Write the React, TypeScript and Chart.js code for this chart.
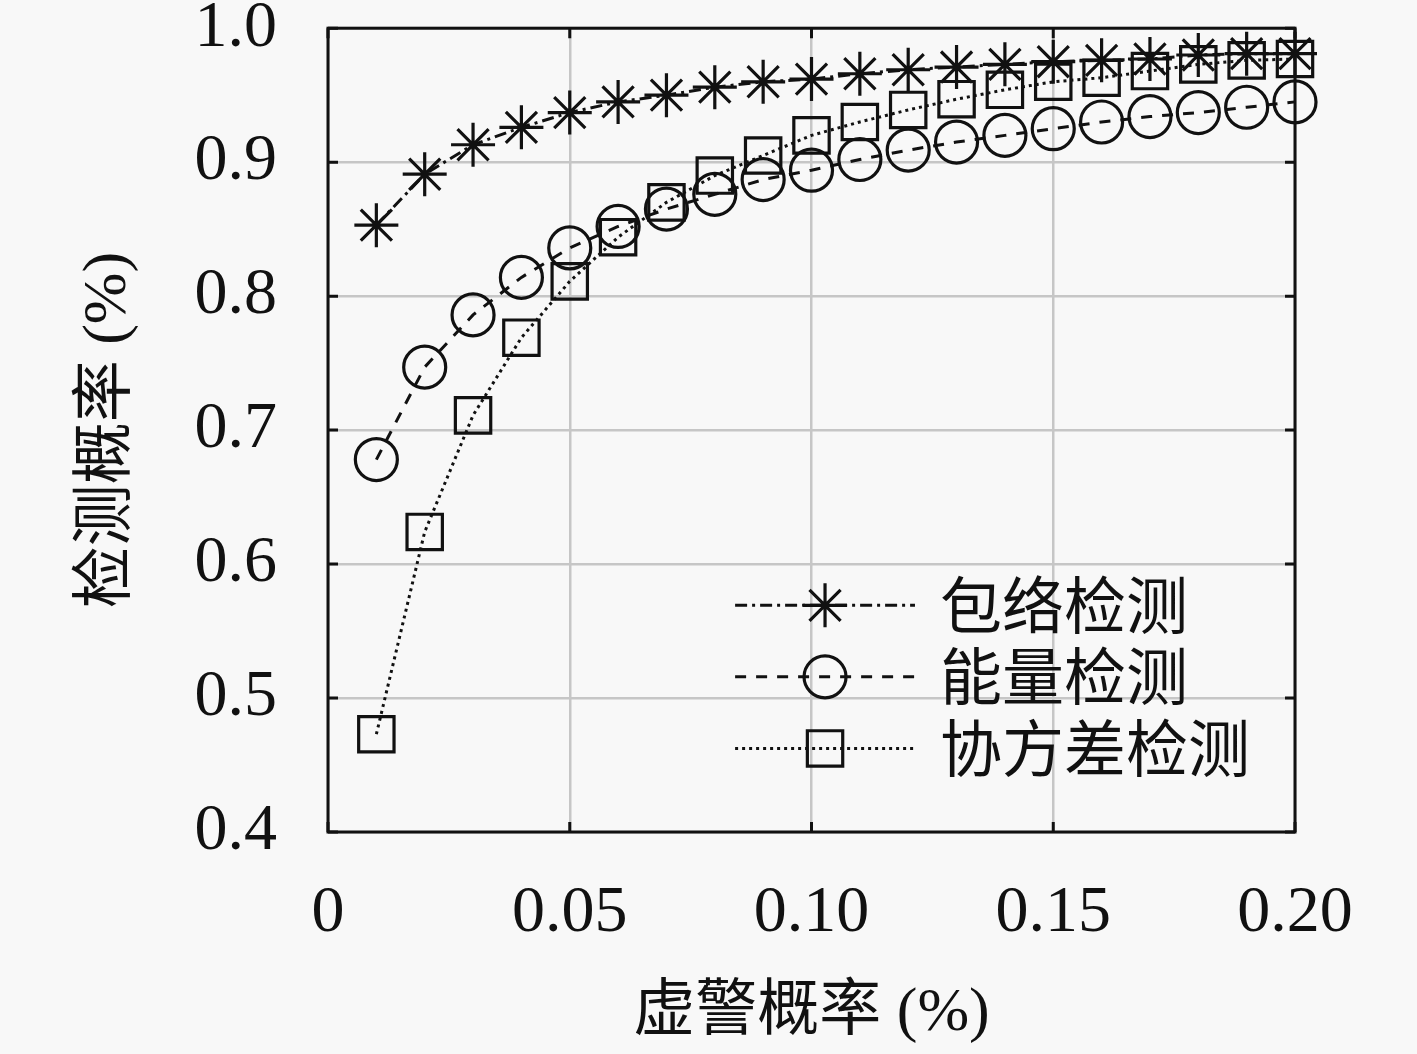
import { useEffect, useRef } from "react";
import { Chart, registerables } from "chart.js";

Chart.register(...registerables);

// false alarm probability (x), one point per 0.01
const falseAlarm = [
  0.01, 0.02, 0.03, 0.04, 0.05, 0.06, 0.07, 0.08, 0.09, 0.1,
  0.11, 0.12, 0.13, 0.14, 0.15, 0.16, 0.17, 0.18, 0.19, 0.2,
];

// detection probability per method
const envelope = [
  0.853, 0.891, 0.913, 0.926, 0.937, 0.945, 0.95, 0.956, 0.96, 0.962,
  0.966, 0.969, 0.971, 0.973, 0.975, 0.976, 0.977, 0.98, 0.981, 0.981,
];
const energy = [
  0.678, 0.747, 0.786, 0.814, 0.836, 0.852, 0.865, 0.876, 0.887, 0.894,
  0.902, 0.909, 0.915, 0.92, 0.925, 0.93, 0.934, 0.937, 0.941, 0.945,
];
const covariance = [
  0.473, 0.624, 0.711, 0.769, 0.811, 0.844, 0.87, 0.89, 0.905, 0.92,
  0.93, 0.939, 0.947, 0.954, 0.96, 0.963, 0.968, 0.973, 0.976, 0.977,
];

const seriesNames = ["包络检测", "能量检测", "协方差检测"];
const xTickLabels = ["0", "0.05", "0.10", "0.15", "0.20"];
const yTickLabels = ["0.4", "0.5", "0.6", "0.7", "0.8", "0.9", "1.0"];

const SERIF = "'Liberation Serif', 'Noto Sans CJK SC', serif";
const CJK = "'Noto Sans CJK SC', sans-serif";

// draw a marker by hand for the legend
function drawMarker(ctx: CanvasRenderingContext2D, style: string, x: number, y: number, r: number) {
  ctx.beginPath();
  if (style === "circle") {
    ctx.arc(x, y, r, 0, Math.PI * 2);
  } else if (style === "rect") {
    const s = Math.SQRT1_2 * r;
    ctx.rect(x - s, y - s, 2 * s, 2 * s);
  } else {
    for (let i = 0; i < 4; i++) {
      const a = (i * Math.PI) / 4;
      ctx.moveTo(x - Math.cos(a) * r, y - Math.sin(a) * r);
      ctx.lineTo(x + Math.cos(a) * r, y + Math.sin(a) * r);
    }
  }
  ctx.stroke();
}

const framePlugin = {
  id: "frame",
  beforeDraw(chart: any) {
    const { ctx, width, height } = chart;
    ctx.save();
    ctx.fillStyle = "#f8f8f8";
    ctx.fillRect(0, 0, width, height);
    ctx.restore();
  },
  beforeDatasetsDraw(chart: any) {
    const { ctx, chartArea: a, scales } = chart;
    ctx.save();
    ctx.strokeStyle = "#111";
    ctx.lineWidth = 3;
    // inner tick marks
    const len = 10;
    ctx.beginPath();
    scales.x.ticks.forEach((t: any) => {
      const px = scales.x.getPixelForValue(t.value);
      ctx.moveTo(px, a.bottom);
      ctx.lineTo(px, a.bottom - len);
      ctx.moveTo(px, a.top);
      ctx.lineTo(px, a.top + len);
    });
    scales.y.ticks.forEach((t: any) => {
      const py = scales.y.getPixelForValue(t.value);
      ctx.moveTo(a.left, py);
      ctx.lineTo(a.left + len, py);
      ctx.moveTo(a.right, py);
      ctx.lineTo(a.right - len, py);
    });
    ctx.stroke();
    ctx.strokeRect(a.left, a.top, a.right - a.left, a.bottom - a.top);
    ctx.restore();
  },
  afterDatasetsDraw(chart: any) {
    const { ctx, chartArea: a } = chart;
    ctx.save();
    // legend inside the plot, lower right
    const w = a.right - a.left;
    const h = a.bottom - a.top;
    const x1 = a.left + 0.421 * w;
    const x2 = a.left + 0.607 * w;
    const xm = (x1 + x2) / 2;
    const rows = [0.718, 0.807, 0.896];
    chart.data.datasets.forEach((ds: any, i: number) => {
      const y = a.top + rows[i] * h;
      ctx.strokeStyle = "#111";
      ctx.lineWidth = 3;
      ctx.setLineDash(ds.borderDash || []);
      ctx.beginPath();
      ctx.moveTo(x1, y);
      ctx.lineTo(x2, y);
      ctx.stroke();
      ctx.setLineDash([]);
      ctx.lineWidth = ds.pointBorderWidth;
      drawMarker(ctx, ds.pointStyle, xm, y, ds.pointRadius);
      ctx.fillStyle = "#111";
      ctx.font = `62px ${CJK}`;
      ctx.textAlign = "left";
      ctx.textBaseline = "middle";
      ctx.fillText(ds.label, a.left + 0.633 * w, y);
    });
    ctx.restore();
  },
};

export default function App() {
  const chartRef = useRef<HTMLCanvasElement | null>(null);
  const chartInstance = useRef<Chart | null>(null);

  useEffect(() => {
    document.body.style.margin = "0";
    if (!chartRef.current) return;
    if (chartInstance.current) chartInstance.current.destroy();

    const toPoints = (vals: number[]) => falseAlarm.map((x, i) => ({ x, y: vals[i] }));

    const common = {
      borderColor: "#111",
      borderWidth: 3,
      pointBorderWidth: 3.2,
      pointBorderColor: "#111",
      pointBackgroundColor: "transparent",
      tension: 0,
      clip: false as const,
    };

    chartInstance.current = new Chart(chartRef.current, {
      type: "line",
      data: {
        datasets: [
          {
            ...common,
            label: seriesNames[0],
            data: toPoints(envelope),
            borderDash: [12, 5, 3, 5],
            pointStyle: "star",
            pointRadius: 22,
          },
          {
            ...common,
            label: seriesNames[1],
            data: toPoints(energy),
            borderDash: [11, 10],
            pointStyle: "circle",
            pointRadius: 21,
          },
          {
            ...common,
            label: seriesNames[2],
            data: toPoints(covariance),
            borderDash: [3, 4],
            pointStyle: "rect",
            pointRadius: 25,
          },
        ],
      },
      options: {
        animation: false,
        responsive: false,
        maintainAspectRatio: false,
        layout: { padding: { top: 27, right: 122, left: 0, bottom: 0 } },
        plugins: {
          legend: { display: false },
          tooltip: { enabled: false },
        },
        scales: {
          x: {
            type: "linear",
            min: 0,
            max: 0.2,
            afterFit: (s: any) => {
              s.height = 222;
              s.paddingLeft = 0;
              s.paddingRight = 0;
            },
            ticks: {
              stepSize: 0.05,
              padding: 42,
              maxRotation: 0,
              color: "#111",
              font: { family: SERIF, size: 66 },
              callback: (_v: any, i: number) => xTickLabels[i],
            },
            grid: { color: "#c6c6c6", lineWidth: 2.5, drawTicks: false },
            border: { display: false },
            title: {
              display: true,
              text: "虚警概率 (%)",
              color: "#111",
              font: { family: SERIF, size: 62 },
              padding: { bottom: 3, top: 0 },
            },
          },
          y: {
            min: 0.4,
            max: 1.0,
            afterFit: (s: any) => {
              s.width = 328;
              s.paddingTop = 0;
              s.paddingBottom = 0;
            },
            ticks: {
              stepSize: 0.1,
              padding: 51,
              color: "#111",
              font: { family: SERIF, size: 66 },
              callback: (_v: any, i: number) => yTickLabels[i],
            },
            grid: { color: "#c6c6c6", lineWidth: 2.5, drawTicks: false },
            border: { display: false },
            title: {
              display: true,
              text: "检测概率 (%)",
              color: "#111",
              font: { family: SERIF, size: 62 },
              padding: { top: 72, bottom: 0 },
            },
          },
        },
      },
      plugins: [framePlugin],
    });

    return () => {
      if (chartInstance.current) {
        chartInstance.current.destroy();
        chartInstance.current = null;
      }
    };
  }, []);

  return (
    <div style={{ width: 1417, height: 1054 }}>
      <canvas ref={chartRef} width={1417} height={1054} />
    </div>
  );
}
